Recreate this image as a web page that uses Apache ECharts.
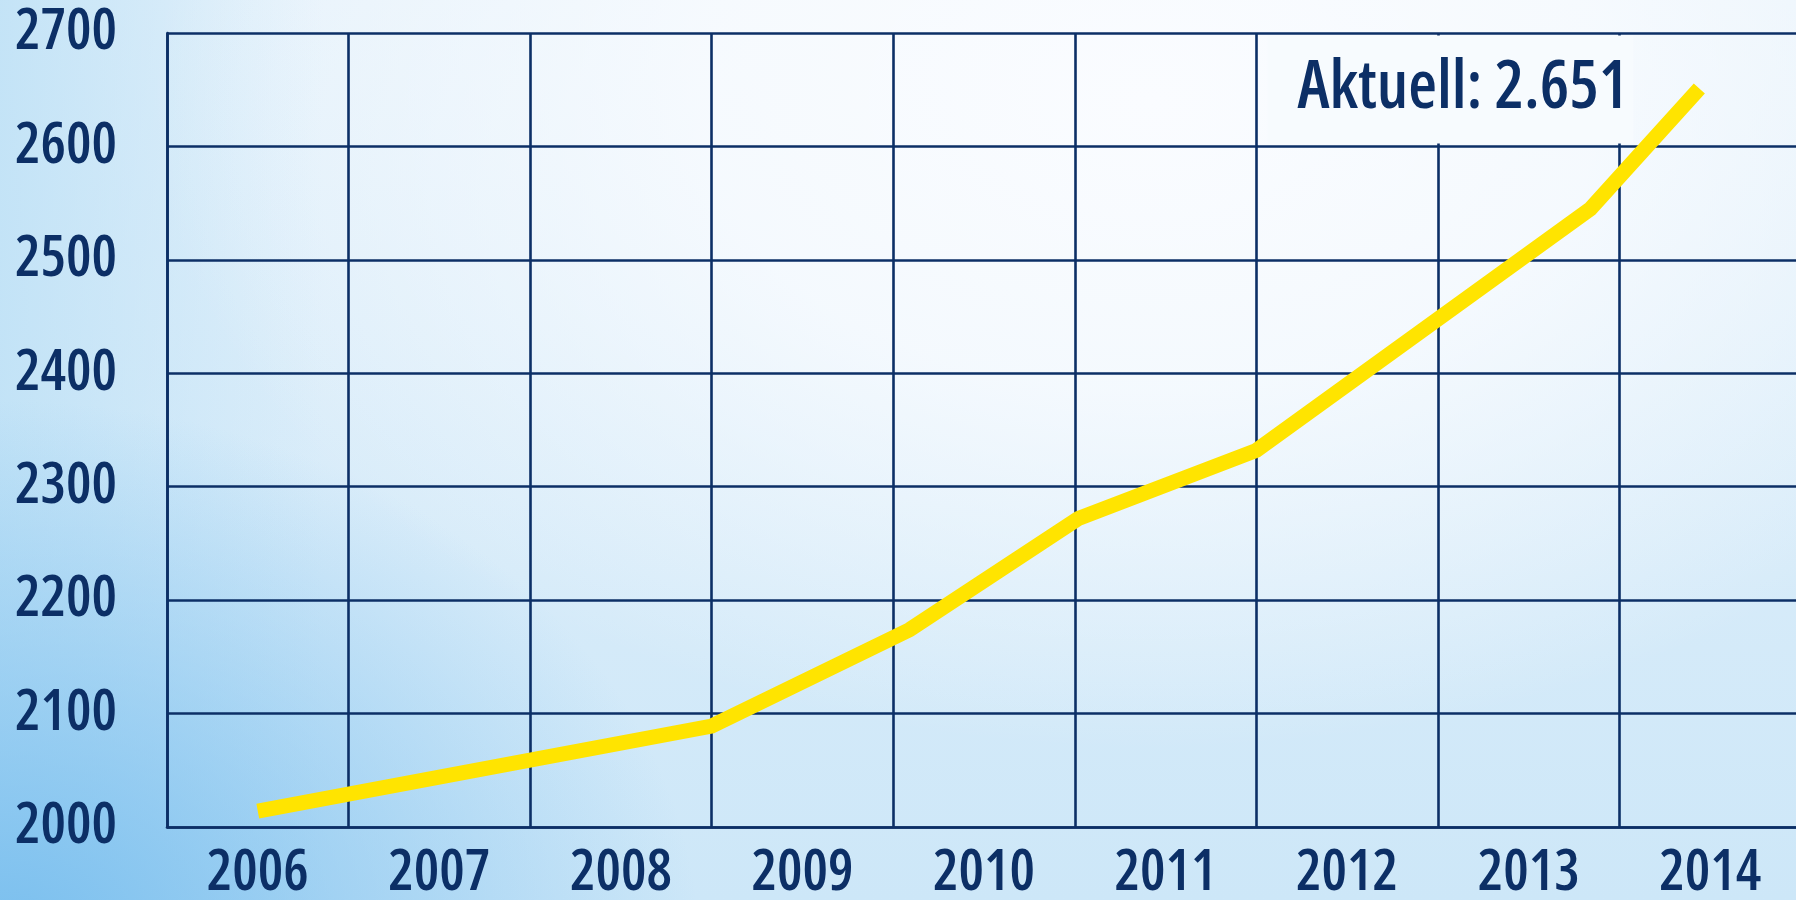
<!DOCTYPE html>
<html>
<head>
<meta charset="utf-8">
<script src="https://cdn.jsdelivr.net/npm/echarts@6/dist/echarts.min.js"></script>
<style>
  html, body { margin: 0; padding: 0; }
  #chart {
    width: 1796px; height: 900px;
    background:
      radial-gradient(ellipse 1000px 650px at 1150px 100px, rgba(250,252,255,1) 0%, rgba(250,252,255,0.8) 45%, rgba(250,252,255,0) 100%),
      radial-gradient(ellipse 700px 550px at 0px 950px, rgba(120,190,238,1) 0%, rgba(120,190,238,0) 100%),
      linear-gradient(90deg, rgba(190,225,246,0.85) 0%, rgba(190,225,246,0) 18%),
      linear-gradient(180deg, #e6f2fb 0%, #cde7f8 100%);
  }
</style>
</head>
<body>
<div id="chart"></div>
<script>
// Category labels (x axis)
const years = ['2006', '2007', '2008', '2009', '2010', '2011', '2012', '2013', '2014'];
// Line vertices: horizontal position in year units, and value
const pointPositions = [2006.0, 2008.5, 2009.59, 2010.52, 2011.5, 2013.34, 2013.94];
const pointValues = [2014, 2089, 2174, 2272, 2332, 2545, 2651];
// Y axis range
const yMin = 2000, yMax = 2700, yStep = 100;
const annotationPrefix = 'Aktuell: ';

const NAVY = '#0c2f66';
const FONT = "'Open Sans', 'Roboto Condensed', sans-serif";
const WEIGHT = '600 condensed';

function formatDe(v) {
  return String(v).replace(/\B(?=(\d{3})+(?!\d))/g, '.');
}

const lineData = pointPositions.map((p, i) => {
  const d = { value: [p, pointValues[i]] };
  if (i === pointPositions.length - 1) {
    d.label = {
      show: true,
      position: 'left',
      distance: 66,
      offset: [0, 1],
      formatter: annotationPrefix + formatDe(pointValues[i]),
      color: NAVY,
      fontFamily: FONT,
      fontWeight: WEIGHT,
      fontSize: 66,
      lineHeight: 66,
      backgroundColor: '#f7fbfe',
      padding: [20, 5, 22, 30]
    };
  }
  return d;
});

const chart = echarts.init(document.getElementById('chart'), null, { renderer: 'canvas' });
chart.setOption({
  animation: false,
  backgroundColor: 'transparent',
  grid: { left: 167, right: -5, top: 33, bottom: 73, containLabel: false, outerBoundsMode: 'none' },
  xAxis: [
    {
      type: 'category',
      data: years,
      boundaryGap: true,
      axisLine: { show: true, lineStyle: { color: NAVY, width: 2.6 } },
      axisTick: { show: false },
      splitLine: { show: true, interval: 0, lineStyle: { color: NAVY, width: 2.6 } },
      axisLabel: { color: NAVY, fontFamily: FONT, fontWeight: WEIGHT, fontSize: 57, lineHeight: 57, margin: 18, interval: 0 }
    },
    {
      type: 'value',
      min: 2005.5,
      max: 2014.5,
      show: false,
      position: 'top',
      splitLine: { show: false }
    }
  ],
  yAxis: {
    type: 'value',
    min: yMin,
    max: yMax,
    interval: yStep,
    axisLine: { show: true, lineStyle: { color: NAVY, width: 2.6 } },
    axisTick: { show: false },
    splitLine: { show: true, lineStyle: { color: NAVY, width: 2.6 } },
    axisLabel: {
      color: NAVY, fontFamily: FONT, fontWeight: WEIGHT, fontSize: 57, margin: 50,
      formatter: v => String(v)
    }
  },
  series: [{
    type: 'line',
    xAxisIndex: 1,
    data: lineData,
    showSymbol: true,
    symbol: 'circle',
    symbolSize: 0.1,
    itemStyle: { color: '#ffe400' },
    lineStyle: { color: '#ffe400', width: 15, cap: 'butt', join: 'miter' },
    z: 5
  }]
});
</script>
</body>
</html>
